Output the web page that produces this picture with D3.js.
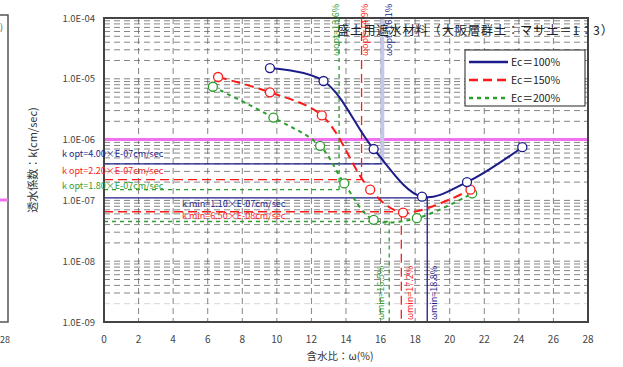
<!DOCTYPE html>
<html>
<head>
<meta charset="utf-8">
<script src="https://cdn.jsdelivr.net/npm/d3@7"></script>
<style>
  body { margin: 0; background: #fff; }
  text { font-family: "Noto Sans CJK JP", "DejaVu Sans", sans-serif; }
</style>
</head>
<body>
<div id="chart"></div>
<script>
// data
var seriesNames = ["Ec\uff1d100%", "Ec\uff1d150%", "Ec\uff1d200%"];
var w100 = [9.6, 12.7, 15.6, 18.4, 21.0, 24.2];
var k100 = [1.5e-5, 9.2e-6, 7.0e-7, 1.15e-7, 2.0e-7, 7.5e-7];
var w150 = [6.6, 9.6, 12.6, 15.4, 17.3, 21.2];
var k150 = [1.07e-5, 6.0e-6, 2.5e-6, 1.5e-7, 6.3e-8, 1.5e-7];
var w200 = [6.3, 9.8, 12.5, 13.9, 15.6, 18.1, 21.3];
var k200 = [7.4e-6, 2.3e-6, 7.9e-7, 1.9e-7, 4.8e-8, 5.1e-8, 1.3e-7];
var wOpt = [16.1, 14.9, 13.6];
var kOpt = [4.0e-7, 2.2e-7, 1.5e-7];
var wMin = [18.7, 17.2, 16.5];
var kMin = [1.1e-7, 6.5e-8, 4.5e-8];
var optLabels = ["k opt=4.00\u00d7E-07cm/sec", "k opt=2.20\u00d7E-07cm/sec", "k opt=1.80\u00d7E-07cm/sec"];
var minLabels = ["k min=1.10\u00d7E-07cm/sec", "k min=6.50\u00d7E-08cm/sec"];
var wOptLabels = ["\u03c9opt=16.1%", "\u03c9opt=14.9%", "\u03c9opt=13.6%"];
var wMinLabels = ["\u03c9min=18.8%", "\u03c9min=17.2%", "\u03c9min=16.5%"];
var xTicks = d3.range(0, 29, 2);
var yTicks = [1e-9, 1e-8, 1e-7, 1e-6, 1e-5, 1e-4];
var kLimit = 1e-6;

var colors = ["#1c1c8a", "#ff1a1a", "#2e9e2e"];
var dashes = [null, "9,5", "4,4"];

var width = 623, height = 367;
var svg = d3.select("#chart").append("svg").attr("width", width).attr("height", height);

var x = d3.scaleLinear().domain([0, 28]).range([104, 588]);
var y = d3.scaleLog().domain([1e-9, 1e-4]).range([322, 18]);

// sliver of neighbouring chart at the left edge
svg.append("rect").attr("x", -20).attr("y", 15).attr("width", 28).attr("height", 307)
    .attr("fill", "#fff").attr("stroke", "#555").attr("stroke-width", 1.5);
svg.append("line").attr("x1", 0).attr("x2", 8).attr("y1", 200).attr("y2", 200)
    .attr("stroke", "#f070f0").attr("stroke-width", 3);
svg.append("text").attr("x", 0).attr("y", 343).attr("font-size", 9).attr("fill", "#444").text("28");
svg.append("text").attr("x", 0).attr("y", 30).attr("font-size", 9).attr("fill", "#444").text(")");

// grid
var minor = [];
for (var e = -9; e < -4; e++) {
    for (var m = 1; m < 10; m++) minor.push(m * Math.pow(10, e));
}
var grid = svg.append("g");
grid.selectAll("line.h").data(minor).enter().append("line")
    .attr("x1", x(0)).attr("x2", x(28))
    .attr("y1", function(d) { return y(d); }).attr("y2", function(d) { return y(d); })
    .attr("stroke", function(d) { return Math.abs(d - 2e-9) < 1e-12 ? "#ccc" : "#666"; })
    .attr("stroke-width", 0.8).attr("stroke-dasharray", "6,4");
grid.selectAll("line.v").data(xTicks.slice(1, -1)).enter().append("line")
    .attr("x1", function(d) { return x(d); }).attr("x2", function(d) { return x(d); })
    .attr("y1", y(1e-4)).attr("y2", y(1e-9))
    .attr("stroke", "#666").attr("stroke-width", 0.8).attr("stroke-dasharray", "6,4");

// permeability limit
svg.append("line").attr("x1", x(0)).attr("x2", x(28)).attr("y1", y(kLimit)).attr("y2", y(kLimit))
    .attr("stroke", "#f070f0").attr("stroke-width", 3);

// optimum / minimum guide lines
var guides = svg.append("g");
[0, 1, 2].forEach(function(i) {
    var st = i == 0 ? "#c4c8e6" : colors[i];
    guides.append("line")
        .attr("x1", x(wOpt[i])).attr("x2", x(wOpt[i]))
        .attr("y1", y(1e-4)).attr("y2", y(kOpt[i]))
        .attr("stroke", st).attr("stroke-width", i == 0 ? 4 : 1.3)
        .attr("stroke-dasharray", dashes[i]);
    guides.append("line")
        .attr("x1", x(0)).attr("x2", x(wOpt[i]))
        .attr("y1", y(kOpt[i])).attr("y2", y(kOpt[i]))
        .attr("stroke", colors[i]).attr("stroke-width", 1.3)
        .attr("stroke-dasharray", dashes[i]);
    guides.append("line")
        .attr("x1", x(0)).attr("x2", x(wMin[i]))
        .attr("y1", y(kMin[i])).attr("y2", y(kMin[i]))
        .attr("stroke", colors[i]).attr("stroke-width", 1.3)
        .attr("stroke-dasharray", dashes[i]);
    guides.append("line")
        .attr("x1", x(wMin[i])).attr("x2", x(wMin[i]))
        .attr("y1", y(kMin[i])).attr("y2", y(1e-9))
        .attr("stroke", colors[i]).attr("stroke-width", 1.3)
        .attr("stroke-dasharray", dashes[i]);
});

// frame
svg.append("rect").attr("x", x(0)).attr("y", y(1e-4))
    .attr("width", x(28) - x(0)).attr("height", y(1e-9) - y(1e-4))
    .attr("fill", "none").attr("stroke", "#444").attr("stroke-width", 2);

// axes labels
svg.append("g").selectAll("text").data(xTicks).enter().append("text")
    .attr("x", function(d) { return x(d); }).attr("y", 343)
    .attr("text-anchor", "middle").attr("font-size", 10).attr("fill", "#444")
    .text(function(d) { return d; });
svg.append("g").selectAll("text").data(yTicks).enter().append("text")
    .attr("x", 95).attr("y", function(d) { return y(d) + 3.5; })
    .attr("text-anchor", "end").attr("font-size", 9.5).attr("fill", "#444")
    .text(function(d) { return "1.0E-0" + Math.round(-Math.log10(d)); });
svg.append("text").attr("x", 340).attr("y", 360).attr("text-anchor", "middle")
    .attr("font-size", 10.5).attr("fill", "#333").text("\u542b\u6c34\u6bd4\uff1a\u03c9(%)");
svg.append("text").attr("transform", "translate(37,160) rotate(-90)").attr("text-anchor", "middle")
    .attr("font-size", 11).attr("fill", "#333").text("\u900f\u6c34\u4fc2\u6570\uff1ak(cm/sec)");

// title
svg.append("text").attr("x", 337).attr("y", 35).attr("font-size", 12.3).attr("fill", "#222")
    .attr("textLength", 276)
    .text("\u76db\u571f\u7528\u906e\u6c34\u6750\u6599\uff08\u5927\u962a\u5c64\u7fa4\u571f\uff1a\u30de\u30b5\u571f\uff1d1\uff1a3\uff09");

// curves
var ws = [w100, w150, w200], ks = [k100, k150, k200];
var line = d3.line().curve(d3.curveCatmullRom.alpha(0.5))
    .x(function(d) { return x(d[0]); }).y(function(d) { return y(d[1]); });
[2, 1, 0].forEach(function(i) {
    var pts = d3.zip(ws[i], ks[i]);
    svg.append("path").datum(pts).attr("d", line).attr("fill", "none")
        .attr("stroke", colors[i]).attr("stroke-width", 2)
        .attr("stroke-dasharray", dashes[i]);
    svg.append("g").selectAll("circle").data(pts).enter().append("circle")
        .attr("cx", function(d) { return x(d[0]); }).attr("cy", function(d) { return y(d[1]); })
        .attr("r", 4.5).attr("fill", "#fff").attr("stroke", colors[i]).attr("stroke-width", 1.3);
});

// guide labels
var optY = [157, 174, 189];
optLabels.forEach(function(t, i) {
    svg.append("text").attr("x", 62).attr("y", optY[i]).attr("font-size", 9)
        .attr("fill", colors[i]).text(t);
});
var minY = [207, 219];
minLabels.forEach(function(t, i) {
    svg.append("text").attr("x", 182).attr("y", minY[i]).attr("font-size", 9)
        .attr("fill", colors[i]).text(t);
});
var wOptX = [392, 368, 339];
wOptLabels.forEach(function(t, i) {
    svg.append("text").attr("transform", "translate(" + wOptX[i] + ",4) rotate(-90)")
        .attr("text-anchor", "end").attr("font-size", 9).attr("fill", colors[i]).text(t);
});
var wMinX = [437, 413, 384];
wMinLabels.forEach(function(t, i) {
    svg.append("text").attr("transform", "translate(" + wMinX[i] + ",320) rotate(-90)")
        .attr("font-size", 9).attr("fill", colors[i]).text(t);
});

// legend
var lg = svg.append("g");
lg.append("rect").attr("x", 465).attr("y", 50).attr("width", 120).attr("height", 56)
    .attr("fill", "#fff").attr("stroke", "#222").attr("stroke-width", 1);
seriesNames.forEach(function(n, i) {
    var ly = 62 + i * 18;
    lg.append("line").attr("x1", 469).attr("x2", 508).attr("y1", ly).attr("y2", ly)
        .attr("stroke", colors[i]).attr("stroke-width", 2.5).attr("stroke-dasharray", dashes[i]);
    lg.append("text").attr("x", 511).attr("y", ly + 4).attr("font-size", 10.5)
        .attr("fill", "#222").text(n);
});
</script>
</body>
</html>
